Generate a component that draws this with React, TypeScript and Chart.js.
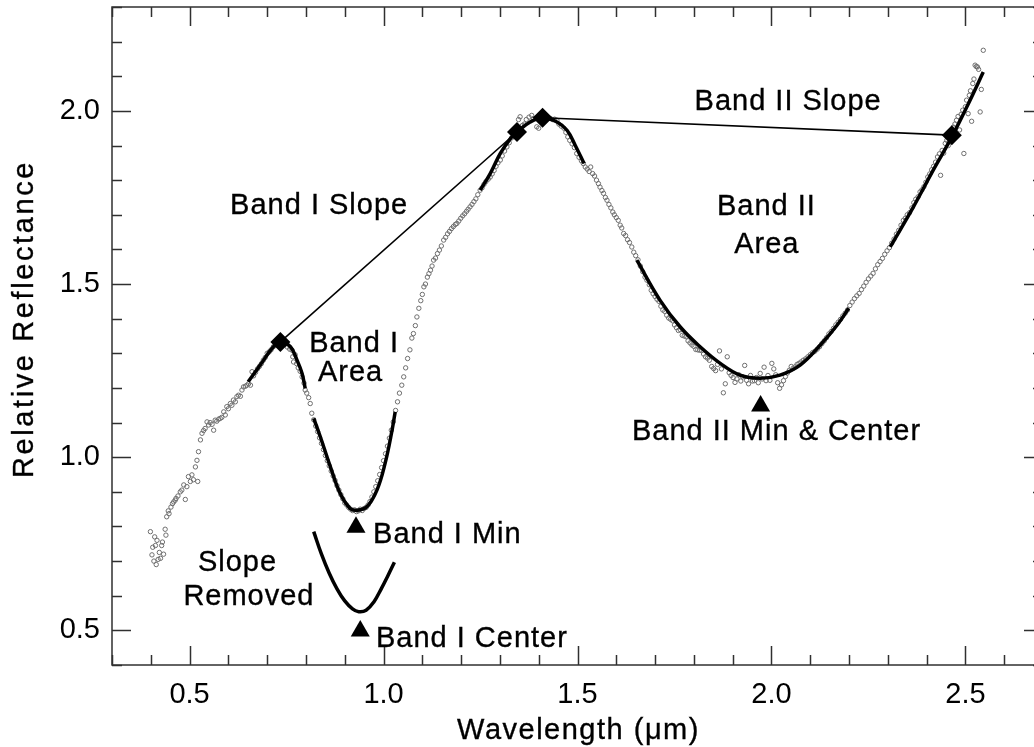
import React, { useEffect, useRef } from "react";
import { Chart, registerables } from "chart.js";

Chart.register(...registerables);

// ---- Measured spectrum (gray open circles) ----
const specWave = [
  0.399, 0.403, 0.405, 0.408, 0.410, 0.412, 0.414, 0.416, 0.419, 0.422, 0.425, 0.428, 0.430, 0.433, 0.437, 0.439, 0.441, 0.445, 0.447,
  0.452, 0.456, 0.459, 0.463, 0.465, 0.470, 0.476, 0.480, 0.485, 0.489, 0.493, 0.497, 0.502, 0.506, 0.510, 0.515, 0.519, 0.521, 0.523,
  0.528, 0.532, 0.536, 0.540, 0.545, 0.549, 0.553, 0.558, 0.562, 0.566, 0.570, 0.575, 0.579, 0.583, 0.588, 0.592, 0.596, 0.600, 0.605,
  0.609, 0.613, 0.618, 0.622, 0.626, 0.631, 0.635, 0.639, 0.644, 0.648, 0.652, 0.657, 0.661, 0.665, 0.670, 0.675, 0.680, 0.685, 0.690,
  0.695, 0.700, 0.705, 0.710, 0.716, 0.722, 0.728, 0.740, 0.746, 0.752, 0.758, 0.764, 0.766, 0.768, 0.772, 0.776, 0.780, 0.785, 0.790,
  0.795, 0.798, 0.802, 0.807, 0.811, 0.815, 0.820, 0.825, 0.830, 0.835, 0.840, 0.845, 0.850, 0.855, 0.860, 0.865, 0.870, 0.875, 0.880,
  0.885, 0.890, 0.895, 0.900, 0.905, 0.910, 0.915, 0.920, 0.925, 0.930, 0.935, 0.940, 0.945, 0.950, 0.955, 0.960, 0.965, 0.970, 0.975,
  0.980, 0.985, 0.990, 0.995, 1.000, 1.005, 1.010, 1.015, 1.020, 1.025, 1.031, 1.036, 1.041, 1.047, 1.052, 1.057, 1.062, 1.068, 1.073,
  1.077, 1.082, 1.086, 1.091, 1.096, 1.100, 1.104, 1.108, 1.113, 1.117, 1.121, 1.125, 1.129, 1.134, 1.139, 1.144, 1.149, 1.155, 1.160,
  1.165, 1.170, 1.175, 1.180, 1.185, 1.189, 1.194, 1.199, 1.204, 1.209, 1.214, 1.218, 1.223, 1.228, 1.233, 1.238, 1.243, 1.249, 1.254,
  1.259, 1.264, 1.270, 1.275, 1.280, 1.285, 1.290, 1.295, 1.301, 1.306, 1.312, 1.318, 1.324, 1.330, 1.336, 1.348, 1.352, 1.358, 1.363,
  1.368, 1.375, 1.382, 1.387, 1.395, 1.400, 1.405, 1.417, 1.423, 1.430, 1.436, 1.441, 1.447, 1.452, 1.458, 1.465, 1.470, 1.475, 1.480,
  1.486, 1.492, 1.498, 1.504, 1.510, 1.515, 1.520, 1.525, 1.530, 1.534, 1.539, 1.544, 1.549, 1.554, 1.558, 1.563, 1.567, 1.572, 1.576,
  1.581, 1.586, 1.591, 1.595, 1.600, 1.605, 1.610, 1.614, 1.619, 1.624, 1.629, 1.634, 1.640, 1.645, 1.650, 1.656, 1.662, 1.668, 1.674,
  1.679, 1.685, 1.690, 1.695, 1.700, 1.705, 1.710, 1.715, 1.720, 1.725, 1.730, 1.735, 1.740, 1.745, 1.750, 1.755, 1.760, 1.765, 1.770,
  1.775, 1.780, 1.785, 1.790, 1.795, 1.800, 1.805, 1.810, 1.815, 1.820, 1.825, 1.830, 1.835, 1.840, 1.846, 1.851, 1.856, 1.861, 1.866,
  1.871, 1.876, 1.881, 1.886, 1.891, 1.896, 1.901, 1.906, 1.911, 1.916, 1.921, 1.926, 1.931, 1.936, 1.941, 1.946, 1.951, 1.956, 1.961,
  1.966, 1.971, 1.976, 1.981, 1.986, 1.991, 1.996, 2.001, 2.006, 2.011, 2.016, 2.021, 2.026, 2.031, 2.036, 2.041, 2.046, 2.051, 2.056,
  2.061, 2.066, 2.071, 2.076, 2.082, 2.088, 2.094, 2.100, 2.106, 2.112, 2.118, 2.124, 2.130, 2.136, 2.142, 2.148, 2.154, 2.160, 2.166,
  2.172, 2.178, 2.184, 2.190, 2.196, 2.202, 2.208, 2.214, 2.220, 2.226, 2.232, 2.238, 2.244, 2.250, 2.256, 2.262, 2.268, 2.274, 2.280,
  2.286, 2.292, 2.298, 2.304, 2.310, 2.316, 2.322, 2.328, 2.334, 2.340, 2.345, 2.350, 2.356, 2.362, 2.367, 2.372, 2.378, 2.383, 2.388,
  2.393, 2.398, 2.403, 2.408, 2.413, 2.418, 2.423, 2.428, 2.433, 2.436, 2.440, 2.444, 2.448, 2.452, 2.456, 2.460, 2.464, 2.469, 2.473,
  2.477, 2.481, 2.485, 2.489, 2.493, 2.496, 2.500, 2.503, 2.507, 2.510, 2.513, 2.516, 2.519, 2.522, 2.525, 2.528, 2.531, 2.534, 2.538,
  2.541, 2.546,
];
const specRefl = [
  0.785, 0.718, 0.740, 0.700, 0.770, 0.745, 0.690, 0.760, 0.705, 0.725, 0.708, 0.745, 0.755, 0.720, 0.792, 0.775, 0.828, 0.845, 0.837,
  0.856, 0.866, 0.871, 0.876, 0.881, 0.888, 0.900, 0.905, 0.920, 0.878, 0.915, 0.944, 0.930, 0.949, 0.935, 0.972, 0.991, 0.930, 1.016,
  1.050, 1.069, 1.077, 1.083, 1.102, 1.093, 1.100, 1.095, 1.078, 1.107, 1.104, 1.110, 1.112, 1.115, 1.131, 1.122, 1.146, 1.140, 1.155,
  1.150, 1.165, 1.160, 1.175, 1.179, 1.176, 1.194, 1.203, 1.205, 1.208, 1.212, 1.208, 1.247, 1.235, 1.245, 1.255, 1.262, 1.270, 1.280,
  1.288, 1.300, 1.304, 1.310, 1.319, 1.324, 1.330, 1.332, 1.326, 1.318, 1.312, 1.309, 1.290, 1.275, 1.296, 1.270, 1.258, 1.248, 1.232,
  1.214, 1.194, 1.185, 1.172, 1.155, 1.127, 1.108, 1.090, 1.074, 1.056, 1.040, 1.022, 1.005, 0.990, 0.975, 0.960, 0.946, 0.933, 0.918,
  0.905, 0.892, 0.880, 0.868, 0.862, 0.855, 0.850, 0.846, 0.848, 0.843, 0.845, 0.850, 0.846, 0.852, 0.855, 0.862, 0.872, 0.885, 0.900,
  0.915, 0.932, 0.950, 0.970, 0.990, 1.010, 1.032, 1.055, 1.078, 1.102, 1.135, 1.160, 1.185, 1.208, 1.232, 1.258, 1.285, 1.310, 1.344,
  1.357, 1.380, 1.405, 1.430, 1.452, 1.470, 1.492, 1.500, 1.520, 1.530, 1.540, 1.552, 1.569, 1.575, 1.588, 1.598, 1.610, 1.627, 1.635,
  1.645, 1.652, 1.660, 1.666, 1.672, 1.675, 1.682, 1.690, 1.697, 1.703, 1.710, 1.716, 1.723, 1.730, 1.738, 1.746, 1.758, 1.771, 1.778,
  1.788, 1.796, 1.803, 1.809, 1.818, 1.828, 1.840, 1.850, 1.858, 1.870, 1.884, 1.896, 1.908, 1.922, 1.930, 1.975, 1.983, 1.958, 1.962,
  1.975, 1.982, 1.987, 1.978, 1.954, 1.950, 1.970, 1.985, 1.980, 1.978, 1.975, 1.976, 1.973, 1.962, 1.956, 1.950, 1.938, 1.925, 1.915,
  1.905, 1.894, 1.877, 1.866, 1.856, 1.848, 1.838, 1.832, 1.825, 1.838, 1.819, 1.812, 1.800, 1.790, 1.780, 1.770, 1.762, 1.750, 1.742,
  1.730, 1.720, 1.708, 1.700, 1.692, 1.684, 1.670, 1.662, 1.646, 1.640, 1.628, 1.620, 1.607, 1.592, 1.582, 1.570, 1.552, 1.536, 1.520,
  1.511, 1.498, 1.482, 1.472, 1.464, 1.456, 1.450, 1.436, 1.425, 1.421, 1.410, 1.402, 1.398, 1.394, 1.382, 1.374, 1.366, 1.368, 1.352,
  1.350, 1.348, 1.336, 1.330, 1.324, 1.320, 1.311, 1.310, 1.309, 1.308, 1.298, 1.290, 1.286, 1.280, 1.262, 1.256, 1.250, 1.268, 1.307,
  1.255, 1.186, 1.212, 1.290, 1.244, 1.236, 1.230, 1.216, 1.226, 1.238, 1.220, 1.232, 1.265, 1.222, 1.212, 1.236, 1.220, 1.221, 1.230,
  1.215, 1.242, 1.226, 1.260, 1.221, 1.236, 1.222, 1.271, 1.255, 1.238, 1.215, 1.199, 1.209, 1.221, 1.233, 1.243, 1.251, 1.262, 1.257,
  1.261, 1.268, 1.271, 1.275, 1.280, 1.284, 1.290, 1.296, 1.302, 1.306, 1.312, 1.319, 1.328, 1.336, 1.345, 1.356, 1.363, 1.372, 1.382,
  1.390, 1.398, 1.408, 1.416, 1.425, 1.438, 1.448, 1.458, 1.466, 1.473, 1.484, 1.494, 1.505, 1.515, 1.523, 1.531, 1.544, 1.556, 1.565,
  1.574, 1.586, 1.596, 1.605, 1.618, 1.630, 1.644, 1.655, 1.670, 1.684, 1.690, 1.700, 1.706, 1.720, 1.735, 1.745, 1.752, 1.766, 1.772,
  1.781, 1.794, 1.809, 1.818, 1.830, 1.840, 1.852, 1.867, 1.876, 1.814, 1.886, 1.878, 1.906, 1.915, 1.900, 1.925, 1.942, 1.953, 1.962,
  1.973, 1.984, 1.945, 1.990, 2.002, 1.877, 2.012, 2.031, 1.992, 2.045, 2.058, 1.970, 2.079, 2.092, 2.132, 2.128, 2.127, 2.120, 1.997,
  2.062, 2.175,
];

// ---- Polynomial fits (thick black curves) ----
const peakIWave = [0.651, 0.682, 0.716, 0.734, 0.760, 0.777, 0.790, 0.798];
const peakIRefl = [1.218, 1.266, 1.319, 1.333, 1.319, 1.280, 1.242, 1.199];
const bandIWave = [0.820, 0.837, 0.863, 0.888, 0.914, 0.931, 0.957, 0.983, 1.004, 1.022, 1.030];
const bandIRefl = [1.112, 1.059, 0.972, 0.896, 0.852, 0.847, 0.857, 0.905, 0.982, 1.078, 1.131];
const removedWave = [0.820, 0.840, 0.860, 0.880, 0.900, 0.920, 0.936, 0.955, 0.975, 0.995, 1.010, 1.028];
const removedRefl = [0.785, 0.720, 0.665, 0.620, 0.585, 0.562, 0.554, 0.558, 0.582, 0.622, 0.655, 0.697];
const peakIIWave = [1.249, 1.275, 1.301, 1.327, 1.344, 1.378, 1.410, 1.447, 1.473, 1.494, 1.517];
const peakIIRefl = [1.771, 1.819, 1.877, 1.920, 1.939, 1.968, 1.980, 1.968, 1.944, 1.901, 1.848];
const bandIIWave = [1.653, 1.713, 1.765, 1.816, 1.868, 1.919, 1.971, 2.022, 2.074, 2.126, 2.169, 2.199];
const bandIIRefl = [1.569, 1.453, 1.376, 1.319, 1.271, 1.237, 1.228, 1.237, 1.266, 1.324, 1.381, 1.430];
const redEdgeWave = [2.306, 2.366, 2.417, 2.465, 2.512, 2.546];
const redEdgeRefl = [1.607, 1.723, 1.829, 1.925, 2.031, 2.112];

// ---- Continuum end points (diamonds) and slopes ----
const shoulderWave = [0.734, 1.344, 1.410, 2.465];
const shoulderRefl = [1.333, 1.939, 1.980, 1.930];
const slopeIWave = [0.734, 1.344];
const slopeIRefl = [1.333, 1.939];
const slopeIIWave = [1.410, 2.465];
const slopeIIRefl = [1.980, 1.930];

// ---- Band minima / centres (triangles) ----
const markerWave = [0.929, 0.940, 1.972];
const markerRefl = [0.798, 0.498, 1.148];

// ---- Annotations ----
const noteText = [
  "Band I Slope", "Band II Slope", "Band II", "Area", "Band I", "Area",
  "Band I Min", "Slope", "Removed", "Band I Center", "Band II Min & Center",
];
const noteWave = [0.834, 2.043, 1.987, 1.988, 0.924, 0.915, 0.973, 0.6235, 0.653, 0.9804, 2.013];
const noteRefl = [1.702, 2.003, 1.699, 1.590, 1.304, 1.220, 0.752, 0.671, 0.573, 0.452, 1.050];
const noteAlign = ["center", "center", "center", "center", "center", "center", "left", "center", "center", "left", "center"];

// ---- Axes ----
const xMin = 0.3, xMax = 2.7, xStep = 0.1;
const yMin = 0.4, yMax = 2.3, yStep = 0.1;
const xTitle = "Wavelength (\u03bcm)";
const yTitle = "Relative Reflectance";

const FONT = '"Liberation Sans", Arial, Helvetica, sans-serif';
const isMajor = (v: number) => Math.abs(v / 0.5 - Math.round(v / 0.5)) < 1e-6;
const pts = (xs: number[], ys: number[]) => xs.map((x, i) => ({ x, y: ys[i] }));

const fit = (xs: number[], ys: number[]) => ({
  data: pts(xs, ys),
  showLine: true,
  borderColor: "#000",
  borderWidth: 3.5,
  pointRadius: 0,
  tension: 0.4,
  fill: false,
});
const straight = (xs: number[], ys: number[]) => ({
  data: pts(xs, ys),
  showLine: true,
  borderColor: "#000",
  borderWidth: 1.6,
  pointRadius: 0,
  tension: 0,
  fill: false,
});

const fillTextBold = (ctx: CanvasRenderingContext2D, txt: string, x: number, y: number) => {
  ctx.fillText(txt, x, y);
  ctx.strokeText(txt, x, y);
};

const framePlugin = {
  id: "framePlugin",
  beforeDraw(chart: any) {
    const ctx = chart.ctx;
    (ctx as any).letterSpacing = "0px";
  },
  afterDraw(chart: any) {
    const { ctx, chartArea: a, scales } = chart;
    const sx = scales.x, sy = scales.y;
    ctx.save();
    ctx.strokeStyle = "#303030";
    ctx.lineWidth = 1.5;
    ctx.strokeRect(a.left, a.top, a.right - a.left, a.bottom - a.top);
    ctx.beginPath();
    for (const t of sx.ticks) {
      const px = Math.round(sx.getPixelForValue(t.value)) + 0.5;
      const len = isMajor(t.value) ? 19 : 10;
      ctx.moveTo(px, a.bottom); ctx.lineTo(px, a.bottom - len);
      ctx.moveTo(px, a.top); ctx.lineTo(px, a.top + len);
    }
    for (const t of sy.ticks) {
      const py = Math.round(sy.getPixelForValue(t.value)) + 0.5;
      const len = isMajor(t.value) ? 19 : 10;
      ctx.moveTo(a.left, py); ctx.lineTo(a.left + len, py);
      ctx.moveTo(a.right, py); ctx.lineTo(a.right - len, py);
    }
    ctx.stroke();

    // annotations
    ctx.fillStyle = "#000";
    ctx.strokeStyle = "#000";
    ctx.lineWidth = 0.35;
    ctx.font = `29px ${FONT}`;
    (ctx as any).letterSpacing = "1px";
    ctx.textBaseline = "alphabetic";
    noteText.forEach((txt, i) => {
      ctx.textAlign = noteAlign[i] as CanvasTextAlign;
      fillTextBold(ctx, txt, sx.getPixelForValue(noteWave[i]), sy.getPixelForValue(noteRefl[i]));
    });

    // axis titles
    ctx.textAlign = "center";
    (ctx as any).letterSpacing = "1.5px";
    fillTextBold(ctx, xTitle, (a.left + a.right) / 2 + 1, a.bottom + 74);
    ctx.save();
    ctx.translate(33, a.top + 312);
    ctx.rotate(-Math.PI / 2);
    (ctx as any).letterSpacing = "2.6px";
    fillTextBold(ctx, yTitle, 0, 0);
    ctx.restore();
    ctx.restore();
  },
};

const fixScale = (s: any) => {
  s.paddingTop = 0;
  s.paddingBottom = 0;
  s.paddingLeft = 0;
  s.paddingRight = 0;
};

export default function App() {
  const ref = useRef<HTMLCanvasElement>(null);
  useEffect(() => {
    const chart = new Chart(ref.current as HTMLCanvasElement, {
      type: "scatter",
      data: {
        datasets: [
          {
            data: pts(markerWave, markerRefl),
            pointStyle: "triangle",
            pointRadius: 11,
            backgroundColor: "#000",
            borderColor: "#000",
            borderWidth: 0,
          },
          {
            data: pts(shoulderWave, shoulderRefl),
            pointStyle: "rectRot",
            pointRadius: 10,
            backgroundColor: "#000",
            borderColor: "#000",
            borderWidth: 0,
          },
          straight(slopeIWave, slopeIRefl),
          straight(slopeIIWave, slopeIIRefl),
          fit(peakIWave, peakIRefl),
          fit(bandIWave, bandIRefl),
          fit(removedWave, removedRefl),
          fit(peakIIWave, peakIIRefl),
          fit(bandIIWave, bandIIRefl),
          fit(redEdgeWave, redEdgeRefl),
          {
            data: pts(specWave, specRefl),
            pointStyle: "circle",
            pointRadius: 2.2,
            borderWidth: 1,
            borderColor: "#6e6e6e",
            backgroundColor: "rgba(0,0,0,0)",
          },
        ] as any,
      },
      options: {
        responsive: false,
        animation: false,
        devicePixelRatio: 1,
        events: [],
        layout: { padding: { top: 3, right: 17, left: 0, bottom: 0 } },
        plugins: { legend: { display: false }, tooltip: { enabled: false } },
        scales: {
          x: {
            type: "linear",
            min: xMin,
            max: xMax,
            grid: { display: false, drawTicks: false },
            border: { display: false },
            afterFit: (s: any) => { s.height = 82; fixScale(s); },
            ticks: {
              stepSize: xStep,
              autoSkip: false,
              maxRotation: 0,
              padding: 13,
              color: "#000",
              font: { family: FONT, size: 29 },
              callback: (v: any) => (isMajor(Number(v)) ? Number(v).toFixed(1) : ""),
            },
          },
          y: {
            type: "linear",
            min: yMin,
            max: yMax,
            grid: { display: false, drawTicks: false },
            border: { display: false },
            afterFit: (s: any) => { s.width = 112; fixScale(s); },
            ticks: {
              stepSize: yStep,
              autoSkip: false,
              padding: 12,
              color: "#000",
              font: { family: FONT, size: 29 },
              callback: (v: any) => (isMajor(Number(v)) ? Number(v).toFixed(1) : ""),
            },
          },
        },
      } as any,
      plugins: [framePlugin],
    });
    return () => chart.destroy();
  }, []);
  return (
    <div
      style={{
        position: "fixed",
        left: 0,
        top: 0,
        width: 1034,
        height: 747,
        overflow: "hidden",
        background: "#fff",
      }}
    >
      <canvas
        ref={ref}
        width={1060}
        height={751}
        style={{ display: "block", width: 1060, height: 751, marginTop: -4 }}
      />
    </div>
  );
}
